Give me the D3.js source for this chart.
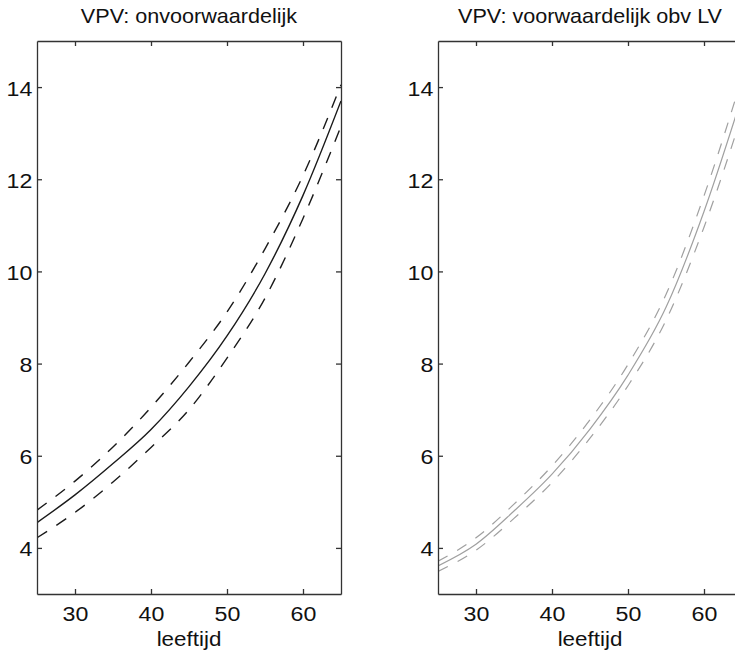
<!DOCTYPE html>
<html>
<head>
<meta charset="utf-8">
<script src="https://cdn.jsdelivr.net/npm/d3@7"></script>
<style>
  body { margin: 0; background: #fff; }
  text { font-family: "Liberation Sans", Arial, Helvetica, sans-serif; fill: #111; }
  .axis path, .axis line { stroke: #333; stroke-width: 1.3; }
</style>
</head>
<body>
<script>
// leeftijd (age) grid
var ages = [25, 30, 35, 40, 45, 50, 55, 60, 65];

// unconditional VPV: mean and band
var uncondMean  = [4.55, 5.15, 5.83, 6.57, 7.50, 8.60, 9.95, 11.65, 13.70];
var uncondUpper = [4.82, 5.45, 6.19, 7.05, 8.03, 9.12, 10.49, 12.08, 14.05];
var uncondLower = [4.22, 4.77, 5.43, 6.18, 7.00, 8.12, 9.42, 11.15, 13.15];

// VPV conditional on LV
var condMean  = [3.61, 4.08, 4.80, 5.60, 6.58, 7.75, 9.22, 11.30, 13.80];
var condUpper = [3.71, 4.22, 4.95, 5.78, 6.78, 7.98, 9.50, 11.64, 14.20];
var condLower = [3.49, 3.95, 4.64, 5.42, 6.38, 7.52, 8.94, 10.96, 13.40];

var xTicks = [30, 40, 50, 60];
var yTicks = [4, 6, 8, 10, 12, 14];
var titles = ['VPV: onvoorwaardelijk', 'VPV: voorwaardelijk obv LV'];
var xLabel = 'leeftijd';

var svgWidth = 735, svgHeight = 651;
var plotTop = 41, plotBottom = 594, panelWidth = 304;
var panelLeft = [37, 438];

var svg = d3.select('body')
    .append('svg')
    .attr('width', svgWidth)
    .attr('height', svgHeight);

var yScale = d3.scaleLinear().domain([3, 15]).range([plotBottom, plotTop]);

var panels = [
    { mean: uncondMean, upper: uncondUpper, lower: uncondLower, color: '#1a1a1a', width: 1.4, dash: '12,11' },
    { mean: condMean, upper: condUpper, lower: condLower, color: '#a0a0a0', width: 1.2, dash: '11,11' }
];

panels.forEach(function(p, i) {
    var left = panelLeft[i];
    var xScale = d3.scaleLinear().domain([25, 65]).range([left, left + panelWidth]);

    var g = svg.append('g');

    svg.append('clipPath')
        .attr('id', 'clip' + i)
        .append('rect')
        .attr('x', left)
        .attr('y', plotTop)
        .attr('width', panelWidth)
        .attr('height', plotBottom - plotTop);

    var line = d3.line()
        .x(function(d, j) { return xScale(ages[j]); })
        .y(function(d) { return yScale(d); })
        .curve(d3.curveMonotoneX);

    [p.upper, p.lower].forEach(function(series) {
        g.append('path')
            .datum(series)
            .attr('clip-path', 'url(#clip' + i + ')')
            .attr('fill', 'none')
            .attr('stroke', p.color)
            .attr('stroke-width', p.width)
            .attr('stroke-dasharray', p.dash)
            .attr('d', line);
    });

    g.append('path')
        .datum(p.mean)
        .attr('clip-path', 'url(#clip' + i + ')')
        .attr('fill', 'none')
        .attr('stroke', p.color)
        .attr('stroke-width', p.width)
        .attr('d', line);

    // box axes with inward ticks
    g.append('g')
        .attr('class', 'axis')
        .attr('transform', 'translate(0,' + plotBottom + ')')
        .call(d3.axisBottom(xScale).tickValues(xTicks).tickSize(-5).tickSizeOuter(0).tickPadding(13))
        .call(function(a) {
            a.selectAll('text').attr('font-size', 20).attr('transform', 'scale(1.16,1)');
        });

    g.append('g')
        .attr('class', 'axis')
        .attr('transform', 'translate(0,' + plotTop + ')')
        .call(d3.axisTop(xScale).tickValues(xTicks).tickSize(-5).tickSizeOuter(0).tickFormat(''));

    g.append('g')
        .attr('class', 'axis')
        .attr('transform', 'translate(' + left + ',0)')
        .call(d3.axisLeft(yScale).tickValues(yTicks).tickSize(-5).tickSizeOuter(0).tickPadding(4))
        .call(function(a) {
            a.selectAll('text').attr('font-size', 20).attr('dy', '0.4em').attr('transform', 'scale(1.16,1)');
        });

    g.append('g')
        .attr('class', 'axis')
        .attr('transform', 'translate(' + (left + panelWidth) + ',0)')
        .call(d3.axisRight(yScale).tickValues(yTicks).tickSize(-5).tickSizeOuter(0).tickFormat(''));

    g.selectAll('.axis text').attr('fill', '#111');

    var cx = left + panelWidth / 2;

    g.append('text')
        .attr('transform', 'translate(' + cx + ',23) scale(1.08,1)')
        .attr('text-anchor', 'middle')
        .attr('font-size', 20)
        .text(titles[i]);

    g.append('text')
        .attr('transform', 'translate(' + cx + ',646) scale(1.12,1)')
        .attr('text-anchor', 'middle')
        .attr('font-size', 20)
        .text(xLabel);
});
</script>
</body>
</html>
